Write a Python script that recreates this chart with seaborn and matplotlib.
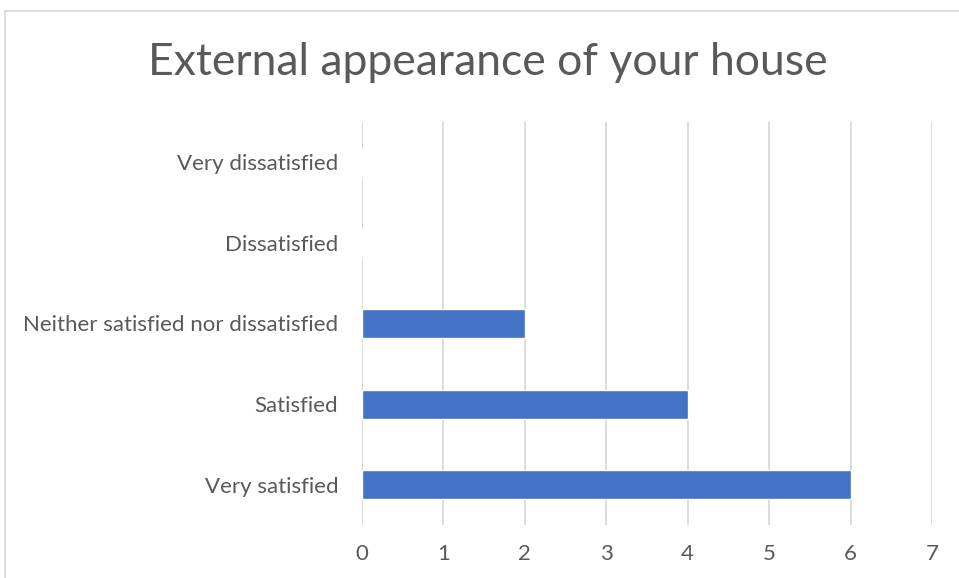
import matplotlib
matplotlib.use("Agg")
import matplotlib.pyplot as plt
import seaborn as sns
import pandas as pd
from matplotlib.patches import Rectangle

# Chart data (top to bottom as shown)
categories = ["Very dissatisfied", "Dissatisfied",
              "Neither satisfied nor dissatisfied", "Satisfied", "Very satisfied"]
counts = [0, 0, 2, 4, 6]
x_ticks = [0, 1, 2, 3, 4, 5, 6, 7]

TEXT = "#595959"
GRID = "#D9D9D9"
BAR = "#4472C4"


def main():
    sns.set_style("white")
    plt.rcParams['font.family'] = ['Lato', 'DejaVu Sans']

    df = pd.DataFrame({"Category": categories, "Count": counts})

    fig = plt.figure(figsize=(9.59, 5.78), dpi=100)
    ax = fig.add_axes([0.3775, 0.0917, 0.5943, 0.6973])

    sns.barplot(data=df, x="Count", y="Category", order=categories,
                color=BAR, width=0.36, saturation=1, ax=ax)

    ax.set_xlim(0, 7)
    ax.set_ylim(4.5, -0.5)
    ax.set_xticks(x_ticks)
    ax.set_xlabel("")
    ax.set_ylabel("")
    ax.grid(axis="x", color=GRID, linewidth=1.3)
    ax.set_axisbelow(True)
    for s in ax.spines.values():
        s.set_visible(False)
    ax.tick_params(axis="both", length=0, labelsize=16, colors=TEXT)
    ax.tick_params(axis="x", pad=14)
    ax.tick_params(axis="y", pad=17)

    fig.text(0.509, 0.892, "External appearance of your house",
             ha="center", va="center", fontsize=32, color=TEXT)

    # chart area border (cropped on right and bottom)
    fig.patches.append(Rectangle((5 / 959, -0.05), 1.2, 1 - 11 / 578 + 0.05,
                                 transform=fig.transFigure, fill=False,
                                 edgecolor=GRID, linewidth=1.3))

    fig.savefig("out.png", dpi=100)


if __name__ == "__main__":
    main()
